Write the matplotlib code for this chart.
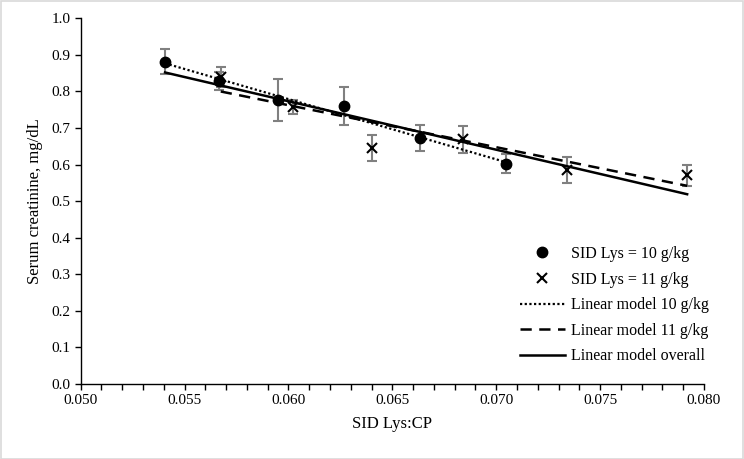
import numpy as np
import matplotlib
matplotlib.use("Agg")
import matplotlib.pyplot as plt
from matplotlib.patches import Rectangle
from matplotlib.ticker import MultipleLocator, FormatStrFormatter

# observed means +- SE, SID Lys = 10 g/kg
x10 = [0.05406, 0.05666, 0.05948, 0.06269, 0.06633, 0.07045]
y10 = [0.881, 0.829, 0.777, 0.761, 0.672, 0.603]
e10 = [0.034, 0.025, 0.057, 0.052, 0.036, 0.026]
# SID Lys = 11 g/kg
x11 = [0.05674, 0.06020, 0.06403, 0.06841, 0.07342, 0.07919]
y11 = [0.840, 0.758, 0.646, 0.669, 0.585, 0.571]
e11 = [0.027, 0.019, 0.036, 0.036, 0.036, 0.029]
# fitted lines (end points)
fit10_x = [0.05406, 0.07045]
fit10_y = [0.877, 0.607]
fit11_x = [0.05674, 0.07919]
fit11_y = [0.800, 0.542]
fitall_x = [0.05406, 0.07919]
fitall_y = [0.852, 0.519]

plt.rcParams["font.family"] = ["Liberation Serif", "DejaVu Serif"]
plt.rcParams["font.size"] = 11

fig = plt.figure(figsize=(7.44, 4.59), dpi=100)
ax = fig.add_axes([0.1085, 0.1634, 0.8377, 0.7966])
fig.patches.append(Rectangle((0.001, 0.001), 0.998, 0.997, transform=fig.transFigure,
                             fill=False, edgecolor="#d9d9d9", lw=1.2))

ebkw = dict(fmt="none", ecolor="#808080", elinewidth=1.5, capsize=3.5, capthick=1.5, zorder=2)
ax.errorbar(x10, y10, yerr=e10, **ebkw)
ax.errorbar(x11, y11, yerr=e11, **ebkw)

ax.plot(fit10_x, fit10_y, color="black", lw=1.6, ls=(0, (1, 1.1)), zorder=3,
        label="Linear model 10 g/kg")
ax.plot(fit11_x, fit11_y, color="black", lw=1.8, ls=(0, (4.5, 3)), zorder=3,
        label="Linear model 11 g/kg")
ax.plot(fitall_x, fitall_y, color="black", lw=1.8, zorder=3,
        label="Linear model overall")
ax.plot(x10, y10, "o", color="black", ms=7.5, zorder=4, label="SID Lys = 10 g/kg")
ax.plot(x11, y11, "x", color="black", ms=6.5, mew=1.5, zorder=4, label="SID Lys = 11 g/kg")

ax.set_xlim(0.050, 0.080)
ax.set_ylim(0.0, 1.0)
ax.xaxis.set_major_locator(MultipleLocator(0.005))
ax.xaxis.set_minor_locator(MultipleLocator(0.001))
ax.xaxis.set_major_formatter(FormatStrFormatter("%.3f"))
ax.yaxis.set_major_locator(MultipleLocator(0.1))
ax.yaxis.set_major_formatter(FormatStrFormatter("%.1f"))
ax.tick_params(which="both", direction="out", length=4, width=1, color="black")
for s in ["top", "right"]:
    ax.spines[s].set_visible(False)
for s in ["left", "bottom"]:
    ax.spines[s].set_linewidth(1)
ax.set_xlabel("SID Lys:CP", fontsize=12, labelpad=6)
ax.set_ylabel("Serum creatinine, mg/dL", fontsize=12, labelpad=6)

h, l = ax.get_legend_handles_labels()
order = [3, 4, 0, 1, 2]
ax.legend([h[i] for i in order], [l[i] for i in order], frameon=False,
          loc="upper left", bbox_to_anchor=(0.699, 0.464), bbox_transform=fig.transFigure,
          borderpad=0, borderaxespad=0, handlelength=2.8, handletextpad=0.4,
          labelspacing=0.6, fontsize=11.5)

fig.savefig("out.png", dpi=100)
